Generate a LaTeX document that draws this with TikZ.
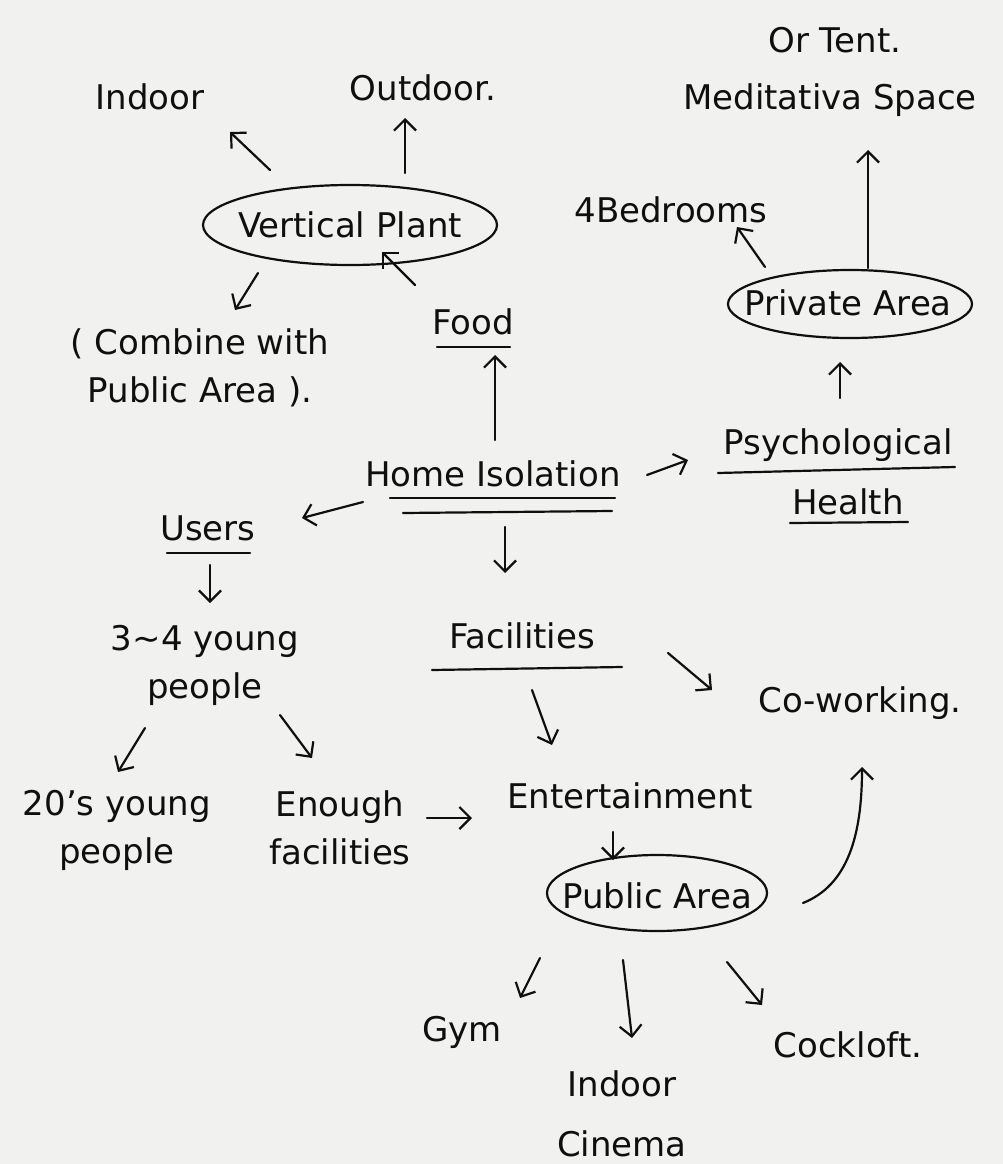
\documentclass[tikz,border=0pt]{standalone}
\usepackage{fontspec}
\setmainfont{DejaVu Sans}
\usetikzlibrary{arrows.meta}
\definecolor{paper}{RGB}{241,241,239}
\definecolor{ink}{RGB}{15,15,15}
\begin{document}
\begin{tikzpicture}[x=1pt,y=-1pt,
  lbl/.style={inner sep=0pt, text=ink, font=\fontsize{34}{48}\selectfont, align=center},
  pen/.style={draw=ink, line width=2.2pt, line cap=round, line join=round},
  arr/.style={pen, -{Straight Barb[length=11pt,width=22pt]}}
]
\fill[paper] (0,0) rectangle (1003,1164);
\useasboundingbox (0,0) rectangle (1003,1164);

% nodes
\node[lbl] (indoor)   at (150,97)   {Indoor};
\node[lbl] (outdoor)  at (423,88)   {Outdoor.};
\node[lbl] (ortent)   at (835,40)   {Or Tent.};
\node[lbl] (medit)    at (830,100)  {Meditativa Space};
\node[lbl] (vp)       at (350,225)  {Vertical Plant};
\node[lbl] (combine)  at (200,368)  {( Combine with\\Public Area ).};
\node[lbl] (food)     at (473,322)  {Food};
\node[lbl] (home)     at (493,474)  {Home Isolation};
\node[lbl] (users)    at (208,528)  {Users};
\node[lbl] (young)    at (205,665)  {3\textasciitilde4 young\\people};
\node[lbl] (twenty)   at (117,830)  {20's young\\people};
\node[lbl] (enough)   at (340,828)  {Enough\\facilities};
\node[lbl] (fac)      at (522,636)  {Facilities};
\node[lbl] (psych)    at (838,445)  {Psychological};
\node[lbl] (health)   at (848,502)  {Health};
\node[lbl] (private)  at (848,303)  {Private Area};
\node[lbl] (bed)      at (671,210)  {4Bedrooms};
\node[lbl] (cowork)   at (860,703)  {Co-working.};
\node[lbl] (ent)      at (630,796)  {Entertainment};
\node[lbl] (pub)      at (657,896)  {Public Area};
\node[lbl] (gym)      at (462,1032) {Gym};
\node[lbl] (cinema)   at (622,1114) {Indoor\\[12pt]Cinema};
\node[lbl] (cockloft) at (848,1045) {Cockloft.};

% ellipses round key nodes
\draw[pen] (vp.center) ellipse [x radius=147, y radius=40];
\draw[pen] ([shift={(2,1)}]private.center) ellipse [x radius=122, y radius=34];
\draw[pen] ([shift={(0,-3)}]pub.center) ellipse [x radius=110, y radius=38];

% underlines
\draw[pen] ([shift={(-36,25)}]food.center) -- ([shift={(37,25)}]food.center);
\draw[pen] ([shift={(-103,24)}]home.center) -- ([shift={(122,24)}]home.center);
\draw[pen] ([shift={(-90,39)}]home.center) -- ([shift={(119,37)}]home.center);
\draw[pen] ([shift={(-41,25)}]users.center) -- ([shift={(42,25)}]users.center);
\draw[pen] ([shift={(-120,28)}]psych.center) -- ([shift={(117,22)}]psych.center);
\draw[pen] ([shift={(-58,21)}]health.center) -- ([shift={(60,20)}]health.center);
\draw[pen] ([shift={(-90,34)}]fac.center) -- ([shift={(100,31)}]fac.center);

% connectors
\draw[arr] ([shift={(-80,-55)}]vp.center) -- ([shift={(80,35)}]indoor.center);
\draw[arr] ([shift={(55,-52)}]vp.center) -- ([shift={(-18,30)}]outdoor.center);
\draw[arr] ([shift={(-58,-37)}]food.center) -- ([shift={(32,27)}]vp.center);
\draw[arr] ([shift={(-92,48)}]vp.center) -- ([shift={(35,-58)}]combine.center);
\draw[arr] ([shift={(2,-34)}]home.center) -- ([shift={(22,33)}]food.center);
\draw[arr] ([shift={(-130,28)}]home.center) -- ([shift={(94,-10)}]users.center);
\draw[arr] ([shift={(2,37)}]users.center) -- ([shift={(5,-62)}]young.center);
\draw[arr] ([shift={(-60,63)}]young.center) -- ([shift={(1,-58)}]twenty.center);
\draw[arr] ([shift={(75,50)}]young.center) -- ([shift={(-28,-70)}]enough.center);
\draw[arr] ([shift={(12,53)}]home.center) -- ([shift={(-17,-63)}]fac.center);
\draw[arr] ([shift={(154,1)}]home.center) -- ([shift={(-150,15)}]psych.center);
\draw[arr] ([shift={(2,-47)}]psych.center) -- ([shift={(-8,59)}]private.center);
\draw[arr] ([shift={(-83,-36)}]private.center) -- ([shift={(66,17)}]bed.center);
\draw[arr] ([shift={(20,-35)}]private.center) -- ([shift={(38,50)}]medit.center);
\draw[arr] ([shift={(146,17)}]fac.center) -- ([shift={(-148,-13)}]cowork.center);
\draw[arr] ([shift={(10,54)}]fac.center) -- ([shift={(-78,-51)}]ent.center);
\draw[arr] ([shift={(87,-10)}]enough.center) -- ([shift={(-158,22)}]ent.center);
\draw[arr] ([shift={(-17,36)}]ent.center) -- ([shift={(-44,-36)}]pub.center);
\draw[arr] ([shift={(146,7)}]pub.center) .. controls +(45,-18) and +(0,68) .. ([shift={(2,64)}]cowork.center);
\draw[arr] ([shift={(-117,62)}]pub.center) -- ([shift={(58,-34)}]gym.center);
\draw[arr] ([shift={(-34,64)}]pub.center) -- ([shift={(10,-76)}]cinema.center);
\draw[arr] ([shift={(70,66)}]pub.center) -- ([shift={(-86,-40)}]cockloft.center);
\end{tikzpicture}
\end{document}
